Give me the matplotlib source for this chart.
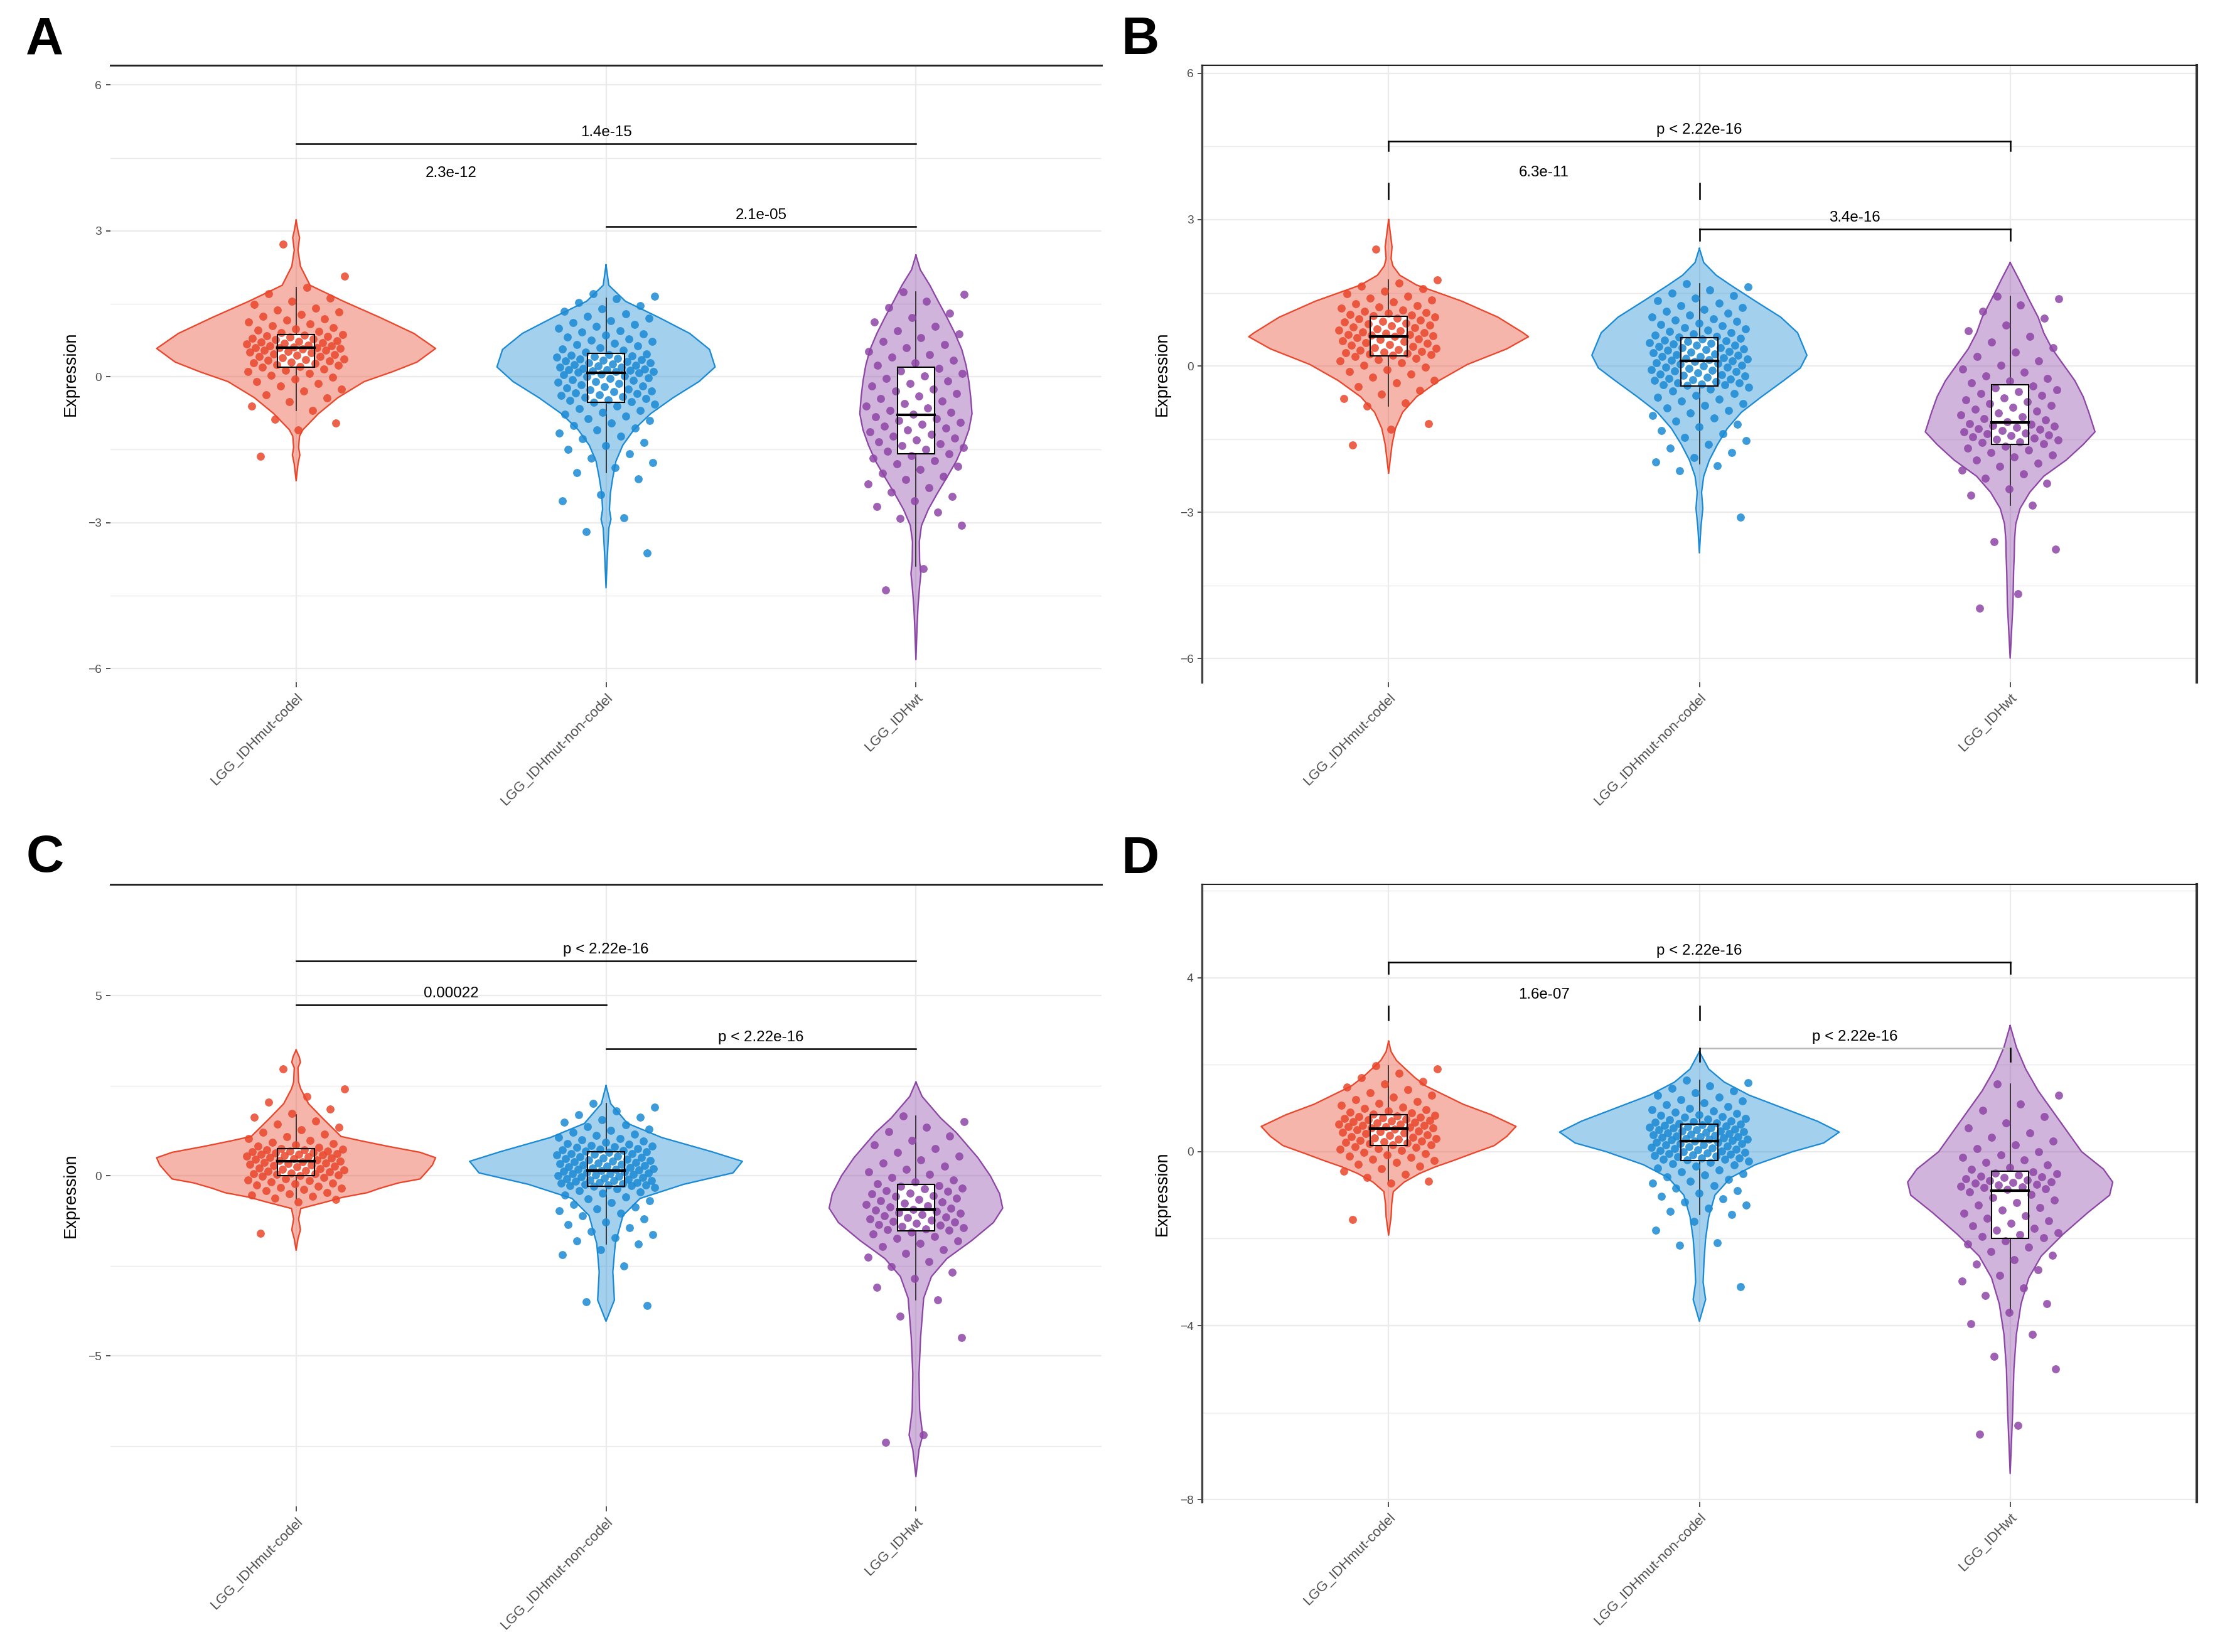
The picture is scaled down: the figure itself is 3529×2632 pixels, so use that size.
import matplotlib
matplotlib.use('Agg')
from matplotlib import pyplot as plt
from matplotlib.patches import Rectangle
import numpy as np

plt.rcParams['font.family'] = ['Liberation Sans', 'DejaVu Sans']

groups = ["LGG_IDHmut-codel", "LGG_IDHmut-non-codel", "LGG_IDHwt"]
colors = ["#E9462B", "#1B8AD4", "#8D45A6"]

# ---- violin outlines: (expression value, half width) ----
a1_violin = [(3.22, 0), (3.0, .006), (2.86, .011), (2.6, .006), (2.27, .014), (1.88, .045), (1.55, .153),
             (1.22, .27), (0.89, .38), (0.58, .45), (0.30, .39), (0.10, .31), (-0.1, .22), (-0.43, .135),
             (-0.76, .072), (-1.09, .022), (-1.22, .011), (-1.45, .008), (-1.61, .012), (-1.8, .006), (-2.14, 0)]
a2_violin = [(2.30, 0), (1.88, .009), (1.55, .063), (1.22, .17), (0.89, .27), (0.56, .334), (0.20, .352),
             (-0.1, .30), (-0.43, .217), (-0.76, .144), (-1.09, .09), (-1.41, .054), (-1.74, .032),
             (-2.07, .022), (-2.40, .014), (-2.73, .011), (-2.93, .016), (-3.12, .009), (-3.72, .004), (-4.34, 0)]
a3_violin = [(2.5, 0), (2.2, .014), (1.88, .045), (1.55, .072), (1.22, .1), (0.89, .126), (0.56, .148),
             (0.23, .162), (-0.1, .171), (-0.43, .177), (-0.76, .181), (-1.09, .171), (-1.41, .153),
             (-1.74, .13), (-2.07, .1), (-2.40, .069), (-2.73, .04), (-3.06, .018), (-3.39, .011),
             (-3.8, .012), (-4.05, .016), (-4.3, .012), (-4.70, .007), (-5.1, .004), (-5.82, 0)]

b1_violin = [(3.0, 0), (2.7, .006), (2.44, .011), (2.2, .008), (2.05, .014), (1.86, .036), (1.66, .09),
             (1.33, .235), (1.0, .352), (0.68, .433), (0.6, .45), (0.35, .38), (0.03, .253), (-0.3, .162),
             (-0.63, .09), (-0.95, .045), (-1.28, .022), (-1.61, .011), (-2.2, 0)]
b2_violin = [(2.41, 0), (2.12, .014), (1.86, .054), (1.66, .1), (1.33, .18), (1.0, .262), (0.68, .316),
             (0.22, .346), (-0.04, .325), (-0.3, .271), (-0.63, .2), (-0.95, .135), (-1.28, .09),
             (-1.61, .058), (-1.93, .032), (-2.26, .014), (-2.59, .007), (-2.92, .011), (-3.3, .005), (-3.83, 0)]
b3_violin = [(2.12, 0), (1.79, .027), (1.33, .063), (1.0, .09), (0.68, .108), (0.35, .135), (0.03, .171),
             (-0.3, .208), (-0.63, .235), (-0.95, .253), (-1.35, .273), (-1.61, .235), (-1.93, .18),
             (-2.26, .108), (-2.59, .063), (-2.92, .032), (-3.24, .018), (-3.57, .014), (-3.9, .013),
             (-4.22, .011), (-4.88, .009), (-5.5, .004), (-5.99, 0)]

c1_violin = [(3.49, 0), (3.3, .01), (3.15, .014), (3.0, .006), (2.6, .008), (2.41, .015), (2.0, .04),
             (1.6, .085), (1.09, .145), (0.95, .22), (0.81, .30), (0.65, .40), (0.5, .45), (0.3, .44),
             (0.1, .42), (-0.09, .40), (-0.2, .33), (-0.35, .27), (-0.47, .23), (-0.6, .15), (-0.72, .10),
             (-0.91, .015), (-1.2, .008), (-1.5, .014), (-1.75, .006), (-2.07, 0)]
c2_violin = [(2.5, 0), (2.0, .015), (1.45, .07), (1.06, .18), (0.67, .34), (0.4, .44), (0.08, .41),
             (-0.24, .25), (-0.63, .11), (-1.1, .055), (-1.88, .03), (-2.67, .022), (-3.45, .027), (-4.04, 0)]
c3_violin = [(2.6, 0), (2.2, .02), (1.6, .08), (1.2, .13), (0.5, .2), (0.0, .24), (-0.5, .27), (-0.9, .28),
             (-1.3, .25), (-1.8, .18), (-2.3, .1), (-2.8, .05), (-3.4, .025), (-4.5, .015), (-5.5, .01),
             (-6.5, .012), (-7.2, .022), (-7.6, .01), (-8.35, 0)]

d1_violin = [(2.54, 0), (2.3, .008), (2.1, .025), (1.93, .05), (1.7, .085), (1.51, .12), (1.3, .18),
             (1.09, .24), (0.85, .33), (0.58, .41), (0.35, .38), (0.14, .34), (-0.04, .27), (-0.2, .21),
             (-0.35, .15), (-0.5, .10), (-0.7, .05), (-0.92, .015), (-1.2, .01), (-1.5, .008), (-1.92, 0)]
d2_violin = [(2.3, 0), (1.9, .03), (1.6, .08), (1.3, .16), (1.0, .27), (0.7, .38), (0.45, .45), (0.2, .40),
             (0.0, .30), (-0.3, .18), (-0.6, .1), (-1.0, .05), (-1.5, .03), (-2.0, .02), (-2.5, .015),
             (-3.0, .012), (-3.4, .02), (-3.9, 0)]
d3_violin = [(2.9, 0), (2.4, .02), (1.9, .05), (1.4, .09), (0.9, .14), (0.4, .19), (0.0, .23), (-0.4, .3),
             (-0.7, .33), (-1.0, .32), (-1.4, .25), (-1.9, .17), (-2.4, .1), (-2.9, .06), (-3.5, .035),
             (-4.2, .02), (-5.0, .012), (-6.0, .008), (-7.4, 0)]

# ---- boxplot stats: lower whisker, Q1, median, Q3, upper whisker ----
a1_box = [-0.69, 0.20, 0.59, 0.87, 1.84]
a2_box = [-1.97, -0.53, 0.08, 0.48, 1.61]
a3_box = [-3.9, -1.59, -0.79, 0.20, 1.74]
b1_box = [-0.82, 0.21, 0.61, 1.02, 1.76]
b2_box = [-2.0, -0.41, 0.10, 0.58, 1.69]
b3_box = [-2.85, -1.61, -1.16, -0.38, 1.43]
c1_box = [-0.65, 0.0, 0.40, 0.75, 1.70]
c2_box = [-1.9, -0.3, 0.15, 0.67, 2.0]
c3_box = [-3.45, -1.53, -0.94, -0.24, 1.65]
d1_box = [-0.7, 0.14, 0.53, 0.85, 1.98]
d2_box = [-1.45, -0.2, 0.25, 0.64, 1.65]
d3_box = [-3.7, -2.0, -0.89, -0.45, 1.55]

# ---- individual samples (estimated) ----
a1_pts = [2.73, 2.07, 1.83, 1.71, 1.62, 1.55, 1.49, 1.41, 1.37, 1.33, 1.28, 1.24, 1.19, 1.16, 1.12, 1.08,
          1.05, 1.01, 0.98, 0.96, 0.93, 0.91, 0.87, 0.86, 0.84, 0.83, 0.81, 0.79, 0.78, 0.76, 0.74, 0.73,
          0.71, 0.7, 0.68, 0.67, 0.65, 0.64, 0.63, 0.61, 0.6, 0.59, 0.59, 0.58, 0.57, 0.55, 0.54, 0.52,
          0.51, 0.49, 0.47, 0.46, 0.44, 0.42, 0.41, 0.39, 0.37, 0.35, 0.34, 0.32, 0.3, 0.28, 0.27, 0.25,
          0.23, 0.21, 0.19, 0.16, 0.13, 0.1, 0.07, 0.03, -0.01, -0.05, -0.1, -0.14, -0.19, -0.25, -0.3,
          -0.37, -0.44, -0.52, -0.61, -0.69, -0.88, -0.95, -1.1, -1.64]
a2_pts = [1.71, 1.66, 1.6, 1.52, 1.46, 1.4, 1.35, 1.29, 1.24, 1.2, 1.15, 1.11, 1.07, 1.03, 0.99, 0.95,
          0.92, 0.88, 0.85, 0.82, 0.78, 0.75, 0.72, 0.69, 0.66, 0.63, 0.6, 0.57, 0.54, 0.51, 0.47, 0.46,
          0.44, 0.43, 0.41, 0.4, 0.38, 0.37, 0.35, 0.34, 0.32, 0.31, 0.29, 0.28, 0.26, 0.25, 0.23, 0.22,
          0.2, 0.19, 0.17, 0.16, 0.15, 0.14, 0.13, 0.12, 0.11, 0.1, 0.09, 0.08, 0.06, 0.04, 0.02, 0.0,
          -0.02, -0.04, -0.06, -0.08, -0.1, -0.12, -0.14, -0.16, -0.19, -0.21, -0.23, -0.25, -0.27, -0.29,
          -0.31, -0.33, -0.35, -0.37, -0.39, -0.41, -0.43, -0.45, -0.47, -0.49, -0.51, -0.53, -0.57, -0.61,
          -0.65, -0.69, -0.73, -0.77, -0.81, -0.86, -0.9, -0.95, -1.0, -1.05, -1.1, -1.16, -1.22, -1.28,
          -1.35, -1.42, -1.5, -1.58, -1.67, -1.77, -1.87, -1.97, -2.1, -2.42, -2.55, -2.9, -3.18, -3.63]
a3_pts = [1.74, 1.69, 1.55, 1.42, 1.3, 1.21, 1.12, 1.03, 0.95, 0.88, 0.8, 0.73, 0.66, 0.59, 0.52, 0.46,
          0.4, 0.34, 0.28, 0.23, 0.17, 0.12, 0.07, 0.02, -0.04, -0.09, -0.14, -0.19, -0.25, -0.3, -0.35,
          -0.4, -0.45, -0.5, -0.55, -0.6, -0.64, -0.69, -0.73, -0.77, -0.82, -0.86, -0.9, -0.94, -0.98,
          -1.02, -1.06, -1.1, -1.14, -1.18, -1.22, -1.26, -1.3, -1.34, -1.38, -1.42, -1.46, -1.5, -1.54,
          -1.58, -1.63, -1.68, -1.73, -1.79, -1.85, -1.91, -1.98, -2.05, -2.12, -2.2, -2.28, -2.37, -2.46,
          -2.56, -2.67, -2.79, -2.92, -3.06, -3.95, -4.38]

b1_pts = [2.4, 1.76, 1.7, 1.64, 1.58, 1.53, 1.48, 1.43, 1.39, 1.35, 1.31, 1.27, 1.24, 1.21, 1.18, 1.15,
          1.12, 1.1, 1.08, 1.06, 1.04, 1.03, 1.0, 0.98, 0.96, 0.94, 0.92, 0.9, 0.88, 0.86, 0.84, 0.82,
          0.8, 0.78, 0.76, 0.74, 0.72, 0.7, 0.68, 0.67, 0.65, 0.64, 0.63, 0.62, 0.6, 0.58, 0.56, 0.54,
          0.52, 0.5, 0.48, 0.46, 0.44, 0.42, 0.4, 0.38, 0.36, 0.34, 0.32, 0.3, 0.29, 0.27, 0.26, 0.24,
          0.23, 0.22, 0.19, 0.16, 0.13, 0.1, 0.06, 0.02, -0.02, -0.07, -0.12, -0.17, -0.23, -0.29, -0.35,
          -0.42, -0.5, -0.58, -0.67, -0.76, -0.82, -1.18, -1.3, -1.62]
b2_pts = [1.69, 1.62, 1.56, 1.5, 1.44, 1.39, 1.34, 1.29, 1.24, 1.2, 1.16, 1.12, 1.08, 1.04, 1.0, 0.97,
          0.94, 0.91, 0.88, 0.85, 0.82, 0.79, 0.76, 0.73, 0.71, 0.68, 0.66, 0.63, 0.61, 0.59, 0.57, 0.55,
          0.53, 0.52, 0.5, 0.48, 0.47, 0.45, 0.43, 0.42, 0.4, 0.38, 0.37, 0.35, 0.33, 0.32, 0.3, 0.28,
          0.27, 0.25, 0.23, 0.22, 0.2, 0.19, 0.17, 0.16, 0.14, 0.13, 0.12, 0.11, 0.09, 0.07, 0.05, 0.04,
          0.02, 0.0, -0.02, -0.03, -0.05, -0.07, -0.09, -0.1, -0.12, -0.14, -0.16, -0.18, -0.19, -0.21,
          -0.23, -0.25, -0.27, -0.28, -0.3, -0.32, -0.34, -0.35, -0.37, -0.38, -0.39, -0.4, -0.44, -0.48,
          -0.52, -0.56, -0.6, -0.64, -0.68, -0.72, -0.77, -0.81, -0.86, -0.91, -0.96, -1.01, -1.07, -1.13,
          -1.19, -1.25, -1.32, -1.39, -1.46, -1.53, -1.61, -1.69, -1.78, -1.88, -1.97, -2.05, -2.15, -3.1]
b3_pts = [1.43, 1.38, 1.25, 1.12, 0.98, 0.84, 0.72, 0.6, 0.49, 0.38, 0.28, 0.19, 0.1, 0.02, -0.06, -0.13,
          -0.2, -0.26, -0.31, -0.35, -0.41, -0.45, -0.49, -0.53, -0.57, -0.61, -0.65, -0.69, -0.73, -0.77,
          -0.81, -0.85, -0.89, -0.93, -0.97, -1.0, -1.04, -1.08, -1.11, -1.14, -1.18, -1.2, -1.22, -1.24,
          -1.26, -1.28, -1.3, -1.33, -1.35, -1.37, -1.39, -1.41, -1.43, -1.45, -1.48, -1.5, -1.52, -1.55,
          -1.57, -1.6, -1.64, -1.68, -1.72, -1.77, -1.82, -1.87, -1.93, -1.99, -2.06, -2.13, -2.21, -2.3,
          -2.4, -2.52, -2.65, -2.85, -3.6, -3.75, -4.67, -4.97]

c1_pts = [2.96, 2.4, 2.2, 2.05, 1.85, 1.72, 1.62, 1.52, 1.43, 1.35, 1.28, 1.21, 1.15, 1.09, 1.03, 0.98,
          0.93, 0.89, 0.85, 0.82, 0.79, 0.76, 0.74, 0.72, 0.71, 0.69, 0.68, 0.66, 0.65, 0.63, 0.62, 0.6,
          0.59, 0.57, 0.56, 0.54, 0.52, 0.51, 0.49, 0.47, 0.46, 0.44, 0.42, 0.41, 0.39, 0.37, 0.35, 0.34,
          0.32, 0.3, 0.28, 0.26, 0.24, 0.22, 0.2, 0.18, 0.16, 0.14, 0.12, 0.1, 0.08, 0.06, 0.05, 0.03,
          0.02, 0.01, -0.02, -0.05, -0.08, -0.11, -0.14, -0.17, -0.2, -0.23, -0.26, -0.29, -0.32, -0.35,
          -0.38, -0.42, -0.46, -0.5, -0.54, -0.58, -0.62, -0.66, -0.72, -1.6]
c2_pts = [2.0, 1.9, 1.8, 1.7, 1.62, 1.55, 1.48, 1.42, 1.36, 1.3, 1.25, 1.2, 1.15, 1.11, 1.07, 1.03, 0.99,
          0.96, 0.93, 0.9, 0.87, 0.84, 0.82, 0.8, 0.78, 0.76, 0.74, 0.72, 0.7, 0.68, 0.66, 0.64, 0.62,
          0.61, 0.59, 0.57, 0.55, 0.53, 0.51, 0.5, 0.48, 0.46, 0.44, 0.42, 0.41, 0.39, 0.37, 0.35, 0.33,
          0.32, 0.3, 0.28, 0.26, 0.25, 0.23, 0.21, 0.2, 0.18, 0.17, 0.16, 0.14, 0.12, 0.11, 0.09, 0.08,
          0.06, 0.05, 0.03, 0.02, 0.0, -0.02, -0.03, -0.05, -0.06, -0.08, -0.1, -0.11, -0.13, -0.14, -0.16,
          -0.18, -0.19, -0.21, -0.22, -0.24, -0.25, -0.26, -0.27, -0.28, -0.29, -0.33, -0.37, -0.41, -0.45,
          -0.49, -0.54, -0.59, -0.64, -0.69, -0.74, -0.8, -0.86, -0.92, -0.98, -1.05, -1.12, -1.2, -1.28,
          -1.36, -1.45, -1.54, -1.63, -1.72, -1.81, -1.9, -2.05, -2.2, -2.5, -3.5, -3.6]
c3_pts = [1.65, 1.5, 1.35, 1.22, 1.1, 0.98, 0.86, 0.75, 0.64, 0.54, 0.44, 0.35, 0.26, 0.18, 0.1, 0.03,
          -0.05, -0.11, -0.17, -0.22, -0.27, -0.3, -0.34, -0.37, -0.41, -0.44, -0.48, -0.51, -0.55, -0.58,
          -0.62, -0.65, -0.69, -0.72, -0.76, -0.79, -0.83, -0.86, -0.9, -0.93, -0.96, -0.99, -1.02, -1.05,
          -1.08, -1.11, -1.14, -1.17, -1.2, -1.23, -1.26, -1.29, -1.32, -1.35, -1.38, -1.41, -1.44, -1.47,
          -1.5, -1.52, -1.57, -1.62, -1.68, -1.74, -1.81, -1.88, -1.96, -2.05, -2.15, -2.26, -2.38, -2.52,
          -2.68, -2.86, -3.1, -3.45, -3.9, -4.5, -7.2, -7.4]

d1_pts = [1.98, 1.9, 1.8, 1.7, 1.62, 1.55, 1.48, 1.42, 1.36, 1.3, 1.25, 1.2, 1.15, 1.11, 1.07, 1.03, 1.0,
          0.97, 0.94, 0.91, 0.89, 0.87, 0.84, 0.82, 0.81, 0.79, 0.78, 0.76, 0.75, 0.73, 0.72, 0.7, 0.69,
          0.67, 0.66, 0.64, 0.63, 0.61, 0.6, 0.58, 0.57, 0.56, 0.55, 0.54, 0.52, 0.5, 0.48, 0.46, 0.44,
          0.43, 0.41, 0.39, 0.37, 0.35, 0.33, 0.32, 0.3, 0.28, 0.26, 0.25, 0.23, 0.21, 0.2, 0.18, 0.16,
          0.15, 0.12, 0.1, 0.07, 0.05, 0.02, -0.01, -0.04, -0.07, -0.1, -0.13, -0.17, -0.21, -0.25, -0.29,
          -0.34, -0.39, -0.45, -0.52, -0.6, -0.68, -0.72, -1.56]
d2_pts = [1.65, 1.58, 1.52, 1.46, 1.4, 1.35, 1.3, 1.25, 1.2, 1.16, 1.12, 1.08, 1.04, 1.0, 0.97, 0.94,
          0.91, 0.88, 0.85, 0.83, 0.81, 0.79, 0.77, 0.75, 0.73, 0.71, 0.69, 0.68, 0.66, 0.65, 0.63, 0.62,
          0.6, 0.59, 0.58, 0.56, 0.55, 0.54, 0.52, 0.51, 0.5, 0.48, 0.47, 0.46, 0.44, 0.43, 0.42, 0.4,
          0.39, 0.38, 0.36, 0.35, 0.34, 0.33, 0.31, 0.3, 0.29, 0.28, 0.27, 0.26, 0.24, 0.22, 0.21, 0.19,
          0.18, 0.16, 0.15, 0.13, 0.12, 0.1, 0.09, 0.07, 0.06, 0.04, 0.03, 0.01, 0.0, -0.02, -0.03, -0.05,
          -0.06, -0.08, -0.09, -0.11, -0.12, -0.14, -0.15, -0.17, -0.18, -0.19, -0.22, -0.25, -0.28, -0.31,
          -0.34, -0.38, -0.42, -0.46, -0.5, -0.54, -0.58, -0.63, -0.68, -0.73, -0.78, -0.84, -0.9, -0.96,
          -1.02, -1.09, -1.16, -1.23, -1.3, -1.38, -1.45, -1.6, -1.8, -2.1, -2.15, -3.1]
d3_pts = [1.55, 1.3, 1.1, 0.95, 0.8, 0.66, 0.54, 0.43, 0.33, 0.24, 0.15, 0.07, 0.0, -0.07, -0.13, -0.19,
          -0.25, -0.31, -0.36, -0.41, -0.47, -0.49, -0.51, -0.54, -0.56, -0.58, -0.6, -0.62, -0.65, -0.67,
          -0.69, -0.71, -0.73, -0.75, -0.77, -0.79, -0.81, -0.83, -0.85, -0.87, -0.93, -0.99, -1.05, -1.11,
          -1.17, -1.23, -1.29, -1.35, -1.41, -1.47, -1.53, -1.59, -1.65, -1.7, -1.76, -1.81, -1.86, -1.91,
          -1.95, -1.98, -2.05, -2.12, -2.2, -2.29, -2.38, -2.48, -2.59, -2.71, -2.84, -2.98, -3.13, -3.3,
          -3.5, -3.7, -3.95, -4.2, -4.7, -5.0, -6.3, -6.5]

# ---- significance brackets: pair, height, label ----
a_pairs = [(1, 3), (1, 2), (2, 3)]
a_heights = [4.79, 3.96, 3.09]
a_labels = ["1.4e-15", "2.3e-12", "2.1e-05"]
b_pairs = [(1, 3), (1, 2), (2, 3)]
b_heights = [4.61, 3.74, 2.81]
b_labels = ["p < 2.22e-16", "6.3e-11", "3.4e-16"]
c_pairs = [(1, 3), (1, 2), (2, 3)]
c_heights = [5.96, 4.75, 3.53]
c_labels = ["p < 2.22e-16", "0.00022", "p < 2.22e-16"]
d_pairs = [(1, 3), (1, 2), (2, 3)]
d_heights = [4.36, 3.35, 2.38]
d_labels = ["p < 2.22e-16", "1.6e-07", "p < 2.22e-16"]

W, H = 1568.0, 1169.0
GRID = "#EBEBEB"


def jitter(n, width=0.16):
    k = np.arange(n)
    return ((k * 0.6180339887 + 0.37) % 1.0 - 0.5) * 2 * width


def draw_group(ax, pos, color, violin, box, pts):
    prof = np.array(violin)
    ys, hw = prof[:, 0], prof[:, 1]
    vx = np.concatenate([pos - hw, (pos + hw)[::-1]])
    vy = np.concatenate([ys, ys[::-1]])
    ax.fill(vx, vy, facecolor=color, alpha=0.4, edgecolor='none', zorder=2)
    ax.plot(np.append(vx, vx[0]), np.append(vy, vy[0]), color=color, lw=0.55, zorder=2.5)
    lo, q1, med, q3, hi = box
    bw = 0.06
    ax.plot([pos, pos], [q3, hi], color='#222222', lw=0.4, zorder=3)
    ax.plot([pos, pos], [lo, q1], color='#222222', lw=0.4, zorder=3)
    ax.add_patch(Rectangle((pos - bw, q1), 2 * bw, q3 - q1, facecolor='white', edgecolor='none', zorder=3.5))
    ax.scatter(pos + jitter(len(pts)), pts, s=9.5, color=color, alpha=0.85, linewidths=0, zorder=4)
    ax.add_patch(Rectangle((pos - bw, q1), 2 * bw, q3 - q1, facecolor='none', edgecolor='black', lw=0.5, zorder=5))
    ax.plot([pos - bw, pos + bw], [med, med], color='black', lw=1.0, zorder=5)


def draw_brackets(ax, pairs, heights, labels, show_line, tips, line_colors):
    for (i, j), y, lab, show, tip, lc in zip(pairs, heights, labels, show_line, tips, line_colors):
        if show:
            ax.plot([i, j], [y, y], color=lc, lw=0.6, zorder=6)
        if tip:
            ax.plot([i, i], [y, y - tip], color='black', lw=0.6, zorder=6)
            ax.plot([j, j], [y, y - tip], color='black', lw=0.6, zorder=6)
        ax.annotate(lab, ((i + j) / 2, y), xytext=(0, 1.6), textcoords='offset points',
                    ha='center', va='bottom', fontsize=5.8, color='black', zorder=7)


def setup_axes(rect_px, ylim, major, minor, boxed):
    l, r, t, b = rect_px
    ax = fig.add_axes([l / W, 1 - b / H, (r - l) / W, (b - t) / H])
    ax.set_xlim(0.4, 3.6)
    ax.set_ylim(*ylim)
    ax.set_xticks([1, 2, 3])
    ax.set_xticklabels(groups, rotation=45, ha='right', va='top', rotation_mode='anchor')
    ax.set_yticks(major)
    ax.set_yticks(minor, minor=True)
    ax.grid(which='major', color=GRID, lw=0.55, zorder=0)
    ax.grid(which='minor', axis='y', color=GRID, lw=0.35, zorder=0)
    ax.set_axisbelow(True)
    ax.tick_params(which='major', length=1.8, width=0.4, color='#333333', labelsize=4.6,
                   labelcolor='#4D4D4D', pad=1.5)
    ax.tick_params(which='minor', length=0)
    ax.tick_params(axis='x', labelsize=5.4)
    ax.set_ylabel('Expression', fontsize=6.5, labelpad=3.5)
    for s in ax.spines.values():
        s.set_visible(False)
    ax.spines['top'].set_visible(True)
    ax.spines['top'].set_color('#222222')
    ax.spines['top'].set_linewidth(0.7)
    if boxed:
        ax.spines['left'].set_visible(True)
        ax.spines['left'].set_color('#444444')
        ax.spines['left'].set_linewidth(0.8)
        ax.spines['right'].set_visible(True)
        ax.spines['right'].set_color('#333333')
        ax.spines['right'].set_linewidth(1.0)
        ax.spines['top'].set_linewidth(0.5)
    return ax


fig = plt.figure(figsize=(3529 / 300, 2632 / 300), dpi=300)

# Panel A
axA = setup_axes((78, 780, 46, 483), (-6.29, 6.41), [-6, -3, 0, 3, 6], [-4.5, -1.5, 1.5, 4.5], False)
for k, (v, bx, p) in enumerate([(a1_violin, a1_box, a1_pts), (a2_violin, a2_box, a2_pts), (a3_violin, a3_box, a3_pts)]):
    draw_group(axA, k + 1, colors[k], v, bx, p)
draw_brackets(axA, a_pairs, a_heights, a_labels, [True, False, True], [0, 0, 0], ['black'] * 3)

# Panel B
axB = setup_axes((851, 1555, 46, 483), (-6.49, 6.17), [-6, -3, 0, 3, 6], [-4.5, -1.5, 1.5, 4.5], True)
for k, (v, bx, p) in enumerate([(b1_violin, b1_box, b1_pts), (b2_violin, b2_box, b2_pts), (b3_violin, b3_box, b3_pts)]):
    draw_group(axB, k + 1, colors[k], v, bx, p)
draw_brackets(axB, b_pairs, b_heights, b_labels, [True, False, True], [0.2, 0.32, 0.23], ['black'] * 3)

# Panel C
axC = setup_axes((78, 780, 626, 1066), (-9.18, 8.08), [-5, 0, 5], [-7.5, -2.5, 2.5], False)
for k, (v, bx, p) in enumerate([(c1_violin, c1_box, c1_pts), (c2_violin, c2_box, c2_pts), (c3_violin, c3_box, c3_pts)]):
    draw_group(axC, k + 1, colors[k], v, bx, p)
draw_brackets(axC, c_pairs, c_heights, c_labels, [True, True, True], [0, 0, 0], ['black'] * 3)

# Panel D
axD = setup_axes((851, 1555, 626, 1063), (-8.06, 6.14), [-8, -4, 0, 4], [-6, -2, 2, 6], True)
for k, (v, bx, p) in enumerate([(d1_violin, d1_box, d1_pts), (d2_violin, d2_box, d2_pts), (d3_violin, d3_box, d3_pts)]):
    draw_group(axD, k + 1, colors[k], v, bx, p)
draw_brackets(axD, d_pairs, d_heights, d_labels, [True, False, True], [0.26, 0.32, 0.3], ['black', 'black', '#BBBBBB'])

# panel letters
for lab, x, y in [('A', 31.5, 28.5), ('B', 807, 28.5), ('C', 32, 607), ('D', 807, 608)]:
    fig.text(x / W, 1 - y / H, lab, fontsize=20, fontweight='bold', ha='center', va='center')

fig.savefig('out.png', dpi=300)
